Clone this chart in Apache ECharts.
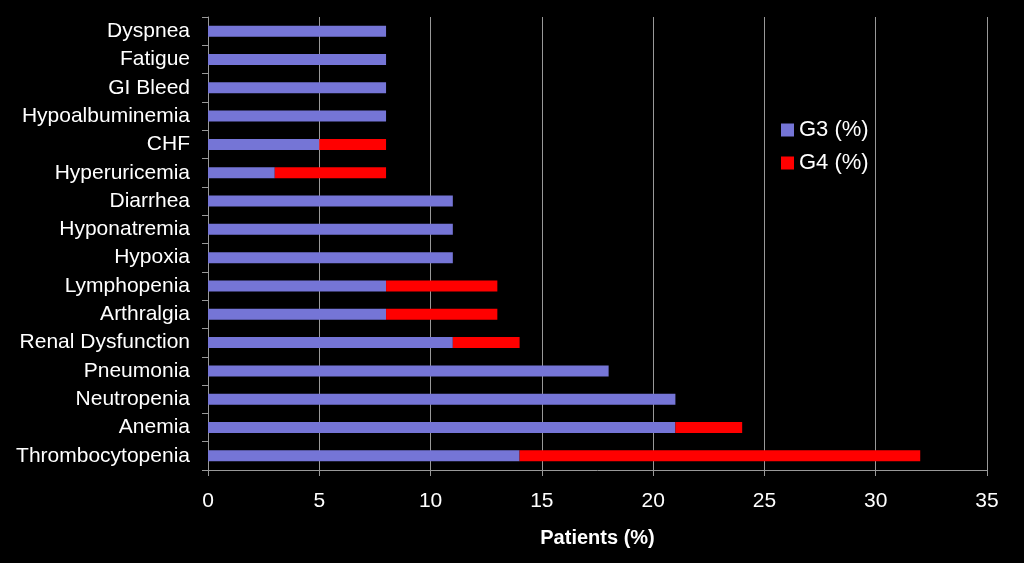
<!DOCTYPE html>
<html>
<head>
<meta charset="utf-8">
<script src="https://cdn.jsdelivr.net/npm/echarts@6/dist/echarts.min.js"></script>
<style>html,body{margin:0;padding:0;background:#000;}#c{width:1024px;height:563px;}</style>
</head>
<body>
<div id="c"></div>
<script>
const categories = ["Thrombocytopenia","Anemia","Neutropenia","Pneumonia","Renal Dysfunction","Arthralgia","Lymphopenia","Hypoxia","Hyponatremia","Diarrhea","Hyperuricemia","CHF","Hypoalbuminemia","GI Bleed","Fatigue","Dyspnea"];
const g3 = [14,21,21,18,11,8,8,11,11,11,3,5,8,8,8,8];
const g4 = [18,3,0,0,3,5,5,0,0,0,5,3,0,0,0,0];
const seriesNames = ["G3 (%)","G4 (%)"];
const xTicks = {min:0, max:35, interval:5};

const chart = echarts.init(document.getElementById('c'), null, {renderer:'canvas'});
const font = "'Liberation Sans', Arial, sans-serif";
chart.setOption({
  backgroundColor:'#000',
  animation:false,
  grid:{left:208, right:37, top:17, bottom:93, containLabel:false},
  legend:{
    orient:'vertical', left:776, top:114, itemWidth:13, itemHeight:13, itemGap:11,
    icon:'rect',
    textStyle:{color:'#fff', fontSize:22, fontFamily:font},
    data:seriesNames
  },
  xAxis:{
    type:'value', min:xTicks.min, max:xTicks.max, interval:xTicks.interval,
    name:'Patients (%)', nameLocation:'middle', nameGap:58,
    nameTextStyle:{color:'#fff', fontSize:20, fontWeight:'bold', fontFamily:font},
    axisLine:{show:true, lineStyle:{color:'#999', width:1}},
    axisTick:{show:true, length:6, lineStyle:{color:'#999'}},
    axisLabel:{color:'#fff', fontSize:21, fontFamily:font, margin:21},
    splitLine:{show:true, lineStyle:{color:'#999', width:1}}
  },
  yAxis:{
    type:'category', data:categories, boundaryGap:true,
    axisLine:{show:true, lineStyle:{color:'#999', width:1}},
    axisTick:{show:true, length:6, lineStyle:{color:'#999'}},
    axisLabel:{color:'#fff', fontSize:21, fontFamily:font, margin:18, padding:[3,0,0,0]},
    splitLine:{show:false}
  },
  series:[
    {name:seriesNames[0], type:'bar', stack:'t', data:g3, barWidth:11, itemStyle:{color:'#7575D6'}},
    {name:seriesNames[1], type:'bar', stack:'t', data:g4, barWidth:11, itemStyle:{color:'#FF0000'}}
  ]
});
</script>
</body>
</html>
